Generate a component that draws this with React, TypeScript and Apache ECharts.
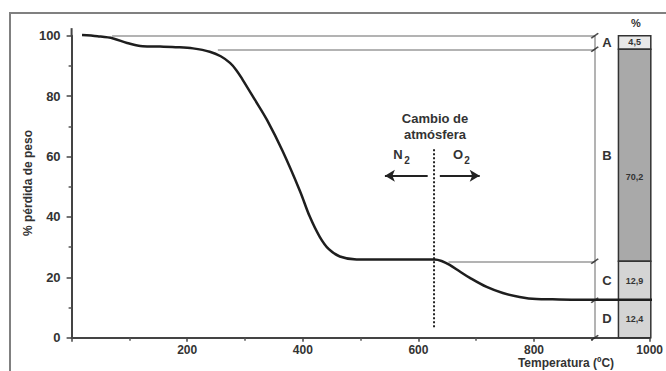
import React, { useEffect, useRef } from "react";
import * as echarts from "echarts";

// Thermogravimetric curve: temperature (ºC) vs % weight
const curve: [number, number][] = [
  [18, 100.2], [45, 99.8], [72, 99.1], [96, 97.6], [123, 96.5], [153, 96.4],
  [185, 96.2], [210, 95.8], [239, 94.7], [258, 93.2], [274, 91], [285, 88.6],
  [296, 85.4], [317, 78.8], [338, 72.1], [365, 61.8], [395, 48.6], [412, 40.1],
  [429, 33.5], [445, 29.3], [464, 26.9], [493, 25.9], [533, 25.9], [600, 25.9],
  [628, 25.9], [640, 25.4], [654, 24.1], [671, 22], [689, 19.8], [718, 16.8],
  [746, 14.8], [775, 13.5], [804, 12.8], [832, 12.7], [880, 12.6], [1014, 12.6],
];

// Stages A-D of weight loss (boundaries in %)
const segLetters = ["A", "B", "C", "D"];
const segValues = ["4,5", "70,2", "12,9", "12,4"];
const segBounds = [100, 95.5, 25.3, 12.4, 0];
const segColors = ["#e8e8e8", "#a9a9a9", "#d4d4d4", "#d4d4d4"];

// Reference lines to the bracket
const refStarts = [70, 253, 652];
const refLevels = [100, 95.5, 25.3];
const bracketT = 905;
const letterT = 926;
const barRange = [946, 1002];

// Atmosphere change
const changeT = 627;
const arrowLevel = 53.6;
const arrowLeft = [616, 542];
const arrowRight = [637, 706];

const yTicks = { min: 0, max: 100, interval: 20 };
const xTicks = { min: 0, max: 1000, interval: 200 };

const FONT = '"Liberation Sans", Arial, sans-serif';

export default function App() {
  const ref = useRef<HTMLDivElement>(null);
  useEffect(() => {
    if (!ref.current) return;
    const chart = echarts.init(ref.current, undefined, { renderer: "svg" });

    const segData = segLetters.map((_, i) => [barRange[0], segBounds[i], segBounds[i + 1]]);

    const option: any = {
      animation: false,
      backgroundColor: "#ffffff",
      grid: { left: 71.6, right: 16, top: 35.7, bottom: 33.3 },
      xAxis: {
        type: "value",
        min: xTicks.min,
        max: xTicks.max,
        interval: xTicks.interval,
        splitLine: { show: false },
        axisLine: { lineStyle: { color: "#444", width: 2 } },
        axisTick: { length: 4, lineStyle: { color: "#444", width: 1.5 } },
        minorTick: { show: true, splitNumber: 2, length: 3, lineStyle: { color: "#555", width: 1.5 } },
        axisLabel: {
          margin: 6,
          color: "#333",
          fontFamily: FONT,
          fontWeight: "bold",
          fontSize: 12,
          formatter: (v: number) => (v === 0 ? "" : String(v)),
        },
      },
      yAxis: {
        type: "value",
        min: yTicks.min,
        max: yTicks.max,
        interval: yTicks.interval,
        splitLine: { show: false },
        axisLine: { show: true, lineStyle: { color: "#444", width: 2 } },
        axisTick: { show: true, length: 5, lineStyle: { color: "#444", width: 1.5 } },
        minorTick: { show: true, splitNumber: 2, length: 3, lineStyle: { color: "#555", width: 1.5 } },
        axisLabel: {
          margin: 11,
          color: "#333",
          fontFamily: FONT,
          fontWeight: "bold",
          fontSize: 13,
        },
      },
      series: [
        {
          type: "line",
          data: [[0, 100], [0, 102.5]],
          showSymbol: false,
          clip: false,
          silent: true,
          lineStyle: { color: "#444", width: 2 },
          z: 1,
        },
        {
          type: "line",
          data: refStarts.map((s, i) => [s, refLevels[i]]),
          showSymbol: false,
          lineStyle: { width: 0 },
          silent: true,
          markLine: {
            silent: true,
            symbol: "none",
            label: { show: false },
            lineStyle: { color: "#9a9a9a", width: 1.5, type: "solid" },
            data: [
              ...refStarts.map((s, i) => [
                { coord: [s, refLevels[i]] },
                { coord: [bracketT, refLevels[i]] },
              ]),
              [{ coord: [bracketT, segBounds[0]] }, { coord: [bracketT, segBounds[4]] }],
            ],
          },
        },
        {
          type: "line",
          data: curve,
          smooth: 0.35,
          showSymbol: false,
          clip: false,
          lineStyle: { color: "#1e1e1e", width: 2.5 },
          z: 5,
        },
        {
          type: "line",
          data: [[changeT, 3.5], [changeT, 63]],
          showSymbol: false,
          lineStyle: { color: "#222", width: 2, type: [2, 2] },
          z: 4,
        },
        {
          type: "line",
          data: [[arrowLeft[0], arrowLevel], [arrowLeft[1], arrowLevel]],
          showSymbol: false,
          lineStyle: { width: 0 },
          markLine: {
            silent: true,
            symbol: ["none", "arrow"],
            symbolSize: [9, 10],
            label: { show: false },
            lineStyle: { color: "#222", width: 2, type: "solid" },
            data: [
              [{ coord: [arrowLeft[0], arrowLevel] }, { coord: [arrowLeft[1], arrowLevel] }],
              [{ coord: [arrowRight[0], arrowLevel] }, { coord: [arrowRight[1], arrowLevel] }],
            ],
          },
        },
        {
          type: "scatter",
          data: segBounds.map((b) => [bracketT, b]),
          symbol: "path://M0,8 L10,0",
          symbolSize: [7, 5],
          clip: false,
          itemStyle: { color: "none", borderColor: "#222", borderWidth: 1.5 },
          z: 6,
        },
        {
          type: "custom",
          clip: false,
          data: segData,
          z: 3,
          renderItem: (params: any, api: any) => {
            const i = params.dataIndex;
            const top = segBounds[i];
            const bot = segBounds[i + 1];
            const p1 = api.coord([barRange[0], top]);
            const p2 = api.coord([barRange[1], bot]);
            const labelV = bot + Math.min((top - bot) / 2, 28);
            const lp = api.coord([(barRange[0] + barRange[1]) / 2, labelV]);
            const lt = api.coord([letterT, (top + bot) / 2]);
            return {
              type: "group",
              children: [
                {
                  type: "rect",
                  shape: { x: p1[0], y: p1[1], width: p2[0] - p1[0], height: p2[1] - p1[1] },
                  style: { fill: segColors[i], stroke: "#333", lineWidth: 1.5 },
                },
                {
                  type: "text",
                  x: lp[0],
                  y: lp[1],
                  style: {
                    text: segValues[i],
                    fill: "#333",
                    font: `bold 9px ${FONT}`,
                    align: "center",
                    verticalAlign: "middle",
                  },
                },
                {
                  type: "text",
                  x: lt[0],
                  y: lt[1],
                  style: {
                    text: segLetters[i],
                    fill: "#333",
                    font: `bold 13px ${FONT}`,
                    align: "center",
                    verticalAlign: "middle",
                  },
                },
              ],
            };
          },
        },
      ],
      graphic: [
        {
          type: "rect",
          shape: { x: 10, y: 13, width: 700, height: 400 },
          style: { fill: "none", stroke: "#808080", lineWidth: 2 },
          silent: true,
        },
        {
          type: "text",
          x: 28,
          y: 183,
          rotation: Math.PI / 2,
          style: { text: "% pérdida de peso", font: `bold 12px ${FONT}`, fill: "#333", align: "center", verticalAlign: "middle" },
        },
        { type: "text", x: 435, y: 118, style: { text: "Cambio de", font: `bold 13px ${FONT}`, fill: "#333", align: "center", verticalAlign: "middle" } },
        { type: "text", x: 435, y: 134, style: { text: "atmósfera", font: `bold 13px ${FONT}`, fill: "#333", align: "center", verticalAlign: "middle" } },
        { type: "text", x: 398, y: 154, style: { text: "N", font: `bold 13px ${FONT}`, fill: "#333", align: "center", verticalAlign: "middle" } },
        { type: "text", x: 407, y: 160, style: { text: "2", font: `bold 10px ${FONT}`, fill: "#333", align: "center", verticalAlign: "middle" } },
        { type: "text", x: 458, y: 154, style: { text: "O", font: `bold 13px ${FONT}`, fill: "#333", align: "center", verticalAlign: "middle" } },
        { type: "text", x: 467, y: 160, style: { text: "2", font: `bold 10px ${FONT}`, fill: "#333", align: "center", verticalAlign: "middle" } },
        { type: "text", x: 636, y: 23, style: { text: "%", font: `bold 11px ${FONT}`, fill: "#333", align: "center", verticalAlign: "middle" } },
        { type: "text", x: 566, y: 363, style: { text: "Temperatura (ºC)", font: `bold 12px ${FONT}`, fill: "#333", align: "center", verticalAlign: "middle" } },
      ],
    };
    chart.setOption(option);
    return () => chart.dispose();
  }, []);
  return (
    <div
      ref={ref}
      style={{ position: "fixed", left: 0, top: 0, width: 666, height: 371, background: "#fff" }}
    />
  );
}
